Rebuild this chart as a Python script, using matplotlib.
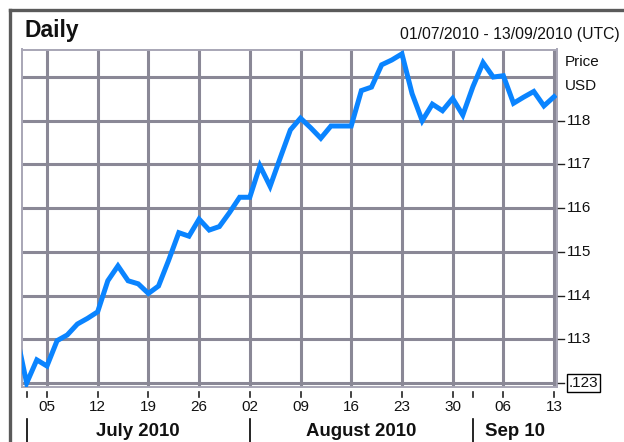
import matplotlib
matplotlib.use("Agg")
import matplotlib.pyplot as plt
import matplotlib.transforms as mtransforms
from matplotlib.lines import Line2D
import pandas as pd

plt.rcParams['font.family'] = ['Liberation Sans', 'DejaVu Sans']

# Trading days Jun 30 2010 .. Sep 13 2010 (weekdays)
trading_days = pd.bdate_range("2010-06-30", "2010-09-13")
prices = [113.10, 112.00, 112.53, 112.39, 112.97, 113.10, 113.35, 113.48, 113.63,
          114.34, 114.68, 114.34, 114.27, 114.05, 114.22, 114.81, 115.44, 115.36,
          115.75, 115.50, 115.58, 115.90, 116.25, 116.25, 116.97, 116.50, 117.15,
          117.79, 118.06, 117.84, 117.60, 117.88, 117.88, 117.88, 118.69, 118.77,
          119.28, 119.39, 119.53, 118.62, 118.00, 118.38, 118.23, 118.51, 118.13,
          118.78, 119.33, 119.00, 119.03, 118.40, 118.54, 118.67, 118.34, 118.55]
week_dates = ["2010-07-05", "2010-07-12", "2010-07-19", "2010-07-26", "2010-08-02",
              "2010-08-09", "2010-08-16", "2010-08-23", "2010-08-30", "2010-09-06",
              "2010-09-13"]
week_labels = ["05", "12", "19", "26", "02", "09", "16", "23", "30", "06", "13"]
month_starts = ["2010-07-01", "2010-08-02", "2010-09-01"]
month_labels = ["July 2010", "August 2010", "Sep 10"]
price_ticks = [113, 114, 115, 116, 117, 118]
title = "Daily"
range_text = "01/07/2010 - 13/09/2010 (UTC)"

# index of trading days, Jul 1 = 0
base = trading_days.get_loc(pd.Timestamp("2010-07-01"))
xs = [i - base for i in range(len(trading_days))]
def idx(d):
    return trading_days.get_loc(pd.Timestamp(d)) - base

W, H = 624, 442
fig = plt.figure(figsize=(W / 100, H / 100), dpi=100)
fig.patch.set_facecolor("white")

def fx(px):
    return px / W
def fy(py):
    return 1 - py / H

# outer border
fig.add_artist(Line2D([fx(10), fx(10)], [fy(10), fy(442)], color="#5a5a5a", lw=2.4))
fig.add_artist(Line2D([fx(10), fx(624)], [fy(10), fy(10)], color="#5a5a5a", lw=2.4))

ax = fig.add_axes([fx(21.7), fy(387), fx(556.5 - 21.7), (387 - 49.5) / H])
grid_c = "#8a8896"
ax.set_xlim(-0.49, 52.24)
ax.set_ylim(111.91, 119.63)

for d in week_dates:
    ax.axvline(idx(d), color=grid_c, lw=2.2, zorder=1)
for v in range(112, 120):
    ax.axhline(v, color=grid_c, lw=2.2, zorder=1)

ax.plot(xs, prices, color="#0a84ff", lw=3.6, solid_joinstyle="miter", zorder=3)

for s in ax.spines.values():
    s.set_color("#a8a6b6")
    s.set_linewidth(1.4)

ax.set_xticks([])
ax.set_yticks([])

trans_x = mtransforms.blended_transform_factory(ax.transData, fig.transFigure)
trans_y = mtransforms.blended_transform_factory(fig.transFigure, ax.transData)

# bottom small ticks
tick_pos = [0] + [idx(d) for d in week_dates] + [idx("2010-09-01")]
for t in tick_pos:
    fig.add_artist(Line2D([t, t], [fy(392), fy(397)], transform=trans_x, color="#222222", lw=1.2))
for d, lab in zip(week_dates, week_labels):
    fig.text(idx(d), fy(407), lab, transform=trans_x, ha="center", va="center",
             fontsize=11, color="#111111")
# month separators and labels
ends = [idx(m) for m in month_starts] + [52.24]
for i, (m, lab) in enumerate(zip(month_starts, month_labels)):
    x0 = idx(m)
    fig.add_artist(Line2D([x0, x0], [fy(419), fy(442)], transform=trans_x, color="black", lw=1.2))
    mid = (x0 + ends[i + 1]) / 2
    fig.text(mid, fy(431), lab, transform=trans_x, ha="center", va="center",
             fontsize=13.4, fontweight="bold", color="#111111")

# right ticks
for v in price_ticks:
    fig.add_artist(Line2D([fx(558), fx(564)], [v, v], transform=trans_y, color="#222222", lw=1.0))
    fig.text(fx(567), v, str(v), transform=trans_y, ha="left", va="center",
             fontsize=11, color="#111111")
fig.add_artist(Line2D([fx(558), fx(564)], [112, 112], transform=trans_y, color="#222222", lw=1.0))
fig.text(fx(568.5), 112, ".123", transform=trans_y, ha="left", va="center", fontsize=11,
         color="#111111",
         bbox=dict(boxstyle="square,pad=0.12", facecolor="white", edgecolor="black", lw=1.0))
fig.text(fx(565), fy(62), "Price", ha="left", va="center", fontsize=11, color="#111111")
fig.text(fx(565), fy(86), "USD", ha="left", va="center", fontsize=11, color="#111111")

fig.text(fx(24), fy(31), title, ha="left", va="center", fontsize=16.5, fontweight="bold",
         color="#111111")
fig.text(fx(620), fy(34), range_text, ha="right", va="center", fontsize=11.3, color="#111111")

fig.savefig("out.png", dpi=100, facecolor="white")
